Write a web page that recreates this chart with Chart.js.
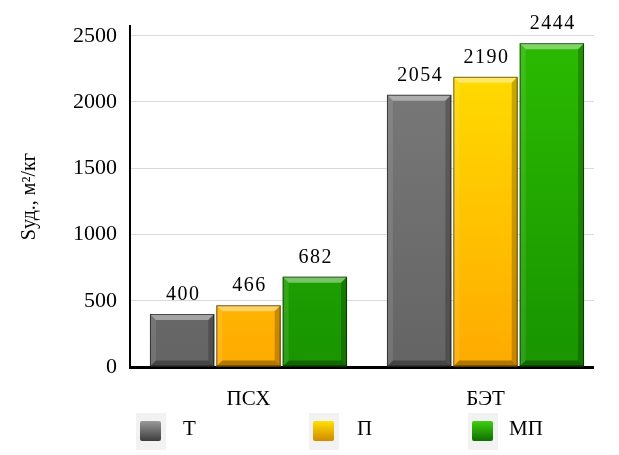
<!DOCTYPE html>
<html>
<head>
<meta charset="utf-8">
<script src="https://cdn.jsdelivr.net/npm/chart.js@4.4.1/dist/chart.umd.min.js"></script>
<style>
  html, body { margin: 0; padding: 0; background: #fff; }
  #wrap { position: relative; width: 619px; height: 455px; }
  #legend { position: absolute; left: 0; top: 0; width: 619px; height: 455px; pointer-events: none;
            font-family: "Liberation Serif", "Times New Roman", serif; font-size: 21px; color: #000; }
  .lg-bg { position: absolute; top: 413px; width: 30px; height: 37px; background: #f2f2f2; }
  .lg-box { position: absolute; top: 421px; width: 21px; height: 20px; border-radius: 2px; }
  .lg-text { position: absolute; top: 418px; line-height: 21px; }
</style>
</head>
<body>
<div id="wrap">
  <canvas id="chart" width="619" height="455"></canvas>
  <div id="legend"></div>
</div>
<script>
// data
const categories = ['ПСХ', 'БЭТ'];
const seriesNames = ['Т', 'П', 'МП'];
const valuesT = [400, 2054];
const valuesP = [466, 2190];
const valuesMP = [682, 2444];
const yTicks = [0, 500, 1000, 1500, 2000, 2500];

const serif = '"Liberation Serif", "Times New Roman", serif';

// vertical gradient over the chart area
function vGrad(top, bottom) {
    return function(ctx) {
        const area = ctx.chart.chartArea;
        if (!area) return bottom;
        const g = ctx.chart.ctx.createLinearGradient(0, area.top, 0, area.bottom);
        g.addColorStop(0, top);
        g.addColorStop(1, bottom);
        return g;
    };
}

const fills = [
    vGrad('#7c7c7c', '#646464'),
    vGrad('#ffe200', '#ffaa00'),
    vGrad('#2cbc00', '#189400')
];
const swatches = [
    'linear-gradient(#9a9a9a, #3c3c3c)',
    'linear-gradient(#ffe000, #d08a00)',
    'linear-gradient(#3fcf10, #0f6e00)'
];

// grid and axis stop a bit before the plot's right edge
const gridTrim = {
    id: 'gridTrim',
    beforeDatasetsDraw(chart) {
        const ctx = chart.ctx;
        ctx.save();
        ctx.fillStyle = '#fff';
        ctx.fillRect(594, 0, chart.width - 594, chart.chartArea.bottom + 3);
        ctx.restore();
    }
};

// bevel look on each bar
const bevelPlugin = {
    id: 'bevel',
    afterDatasetsDraw(chart) {
        const ctx = chart.ctx;
        chart.data.datasets.forEach(function(ds, i) {
            chart.getDatasetMeta(i).data.forEach(function(bar) {
                const x0 = bar.x - bar.width / 2, x1 = bar.x + bar.width / 2;
                const t = bar.y, b = bar.base, e = 6;
                ctx.save();
                const poly = function(pts, color) {
                    ctx.beginPath();
                    ctx.moveTo(pts[0][0], pts[0][1]);
                    for (let k = 1; k < pts.length; k++) ctx.lineTo(pts[k][0], pts[k][1]);
                    ctx.closePath();
                    ctx.fillStyle = color;
                    ctx.fill();
                };
                poly([[x0, t], [x1, t], [x1 - e, t + e], [x0 + e, t + e]], 'rgba(255,255,255,0.4)');
                poly([[x0, t], [x0 + e, t + e], [x0 + e, b - e], [x0, b]], 'rgba(255,255,255,0.1)');
                poly([[x1, t], [x1 - e, t + e], [x1 - e, b - e], [x1, b]], 'rgba(0,0,0,0.22)');
                poly([[x0, b], [x0 + e, b - e], [x1 - e, b - e], [x1, b]], 'rgba(0,0,0,0.3)');
                ctx.strokeStyle = 'rgba(0,0,0,0.55)';
                ctx.lineWidth = 1;
                ctx.strokeRect(x0 + 0.5, t + 0.5, bar.width - 1, b - t - 1);
                ctx.restore();
            });
        });
    }
};

// value labels above bars
const valueLabels = {
    id: 'valueLabels',
    afterDatasetsDraw(chart) {
        const ctx = chart.ctx;
        ctx.save();
        ctx.font = '20px ' + serif;
        ctx.letterSpacing = '1.5px';
        ctx.fillStyle = '#000';
        ctx.textAlign = 'center';
        ctx.textBaseline = 'alphabetic';
        chart.data.datasets.forEach(function(ds, i) {
            chart.getDatasetMeta(i).data.forEach(function(bar, j) {
                ctx.fillText(String(ds.data[j]), bar.x + 1, bar.y - 14);
            });
        });
        ctx.restore();
    }
};

const chart = new Chart(document.getElementById('chart'), {
    type: 'bar',
    data: {
        labels: categories,
        datasets: [valuesT, valuesP, valuesMP].map(function(vals, i) {
            return {
                label: seriesNames[i],
                data: vals,
                backgroundColor: fills[i],
                borderWidth: 0,
                categoryPercentage: 0.84,
                barPercentage: 0.97
            };
        })
    },
    options: {
        responsive: false,
        animation: false,
        layout: { padding: { top: 20, right: 15, left: 0, bottom: 0 } },
        plugins: {
            legend: { display: false },
            tooltip: { enabled: false }
        },
        scales: {
            x: {
                grid: { display: false },
                border: { color: '#000', width: 3 },
                ticks: { color: '#000', padding: 12, font: { family: serif, size: 21 } },
                afterFit: function(s) { s.height = 88; }
            },
            y: {
                min: 0,
                max: 2572,
                afterBuildTicks: function(s) {
                    s.ticks = yTicks.map(function(v) { return { value: v }; });
                },
                grid: { color: '#d9d9d9', drawTicks: false },
                border: { color: '#000', width: 2 },
                ticks: {
                    color: '#000',
                    padding: 13,
                    font: { family: serif, size: 22 },
                    callback: function(v) { return String(v); }
                },
                title: {
                    display: true,
                    text: 'Sуд., м²/кг',
                    color: '#000',
                    font: { family: serif, size: 20 },
                    padding: { top: 18, bottom: 0 }
                },
                afterFit: function(s) { s.width = 130; }
            }
        }
    },
    plugins: [gridTrim, bevelPlugin, valueLabels]
});

// legend spread across the bottom
const legend = document.getElementById('legend');
const boxLeft = [140, 313, 472];
const textLeft = [183, 357, 509];
seriesNames.forEach(function(name, i) {
    const bg = document.createElement('div');
    bg.className = 'lg-bg';
    bg.style.left = (boxLeft[i] - 4) + 'px';
    legend.appendChild(bg);
    const box = document.createElement('div');
    box.className = 'lg-box';
    box.style.left = boxLeft[i] + 'px';
    box.style.background = swatches[i];
    legend.appendChild(box);
    const txt = document.createElement('div');
    txt.className = 'lg-text';
    txt.style.left = textLeft[i] + 'px';
    txt.textContent = name;
    legend.appendChild(txt);
});
</script>
</body>
</html>
